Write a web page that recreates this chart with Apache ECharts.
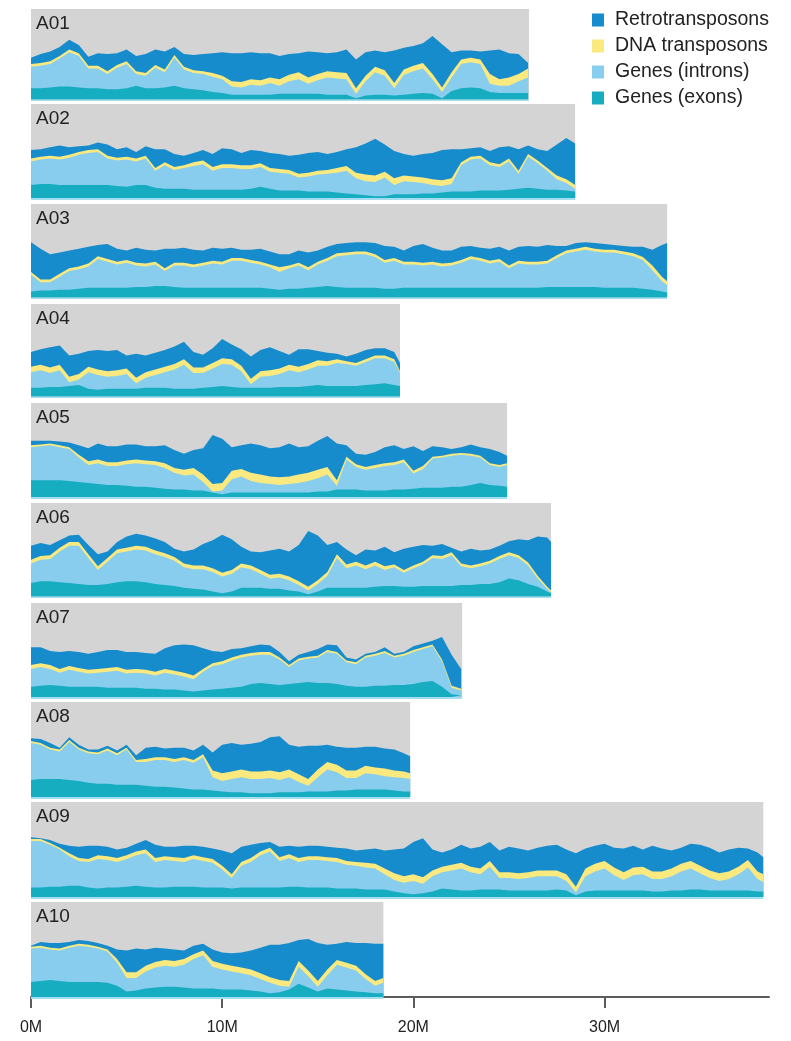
<!DOCTYPE html>
<html>
<head>
<meta charset="utf-8">
<title>Brassica rapa A genome composition</title>
<script src="https://cdn.jsdelivr.net/npm/echarts@6/dist/echarts.min.js"></script>
<style>
  html, body { margin: 0; padding: 0; background: #ffffff; }
  #chart { width: 791px; height: 1041px; }
</style>
</head>
<body>
<div id="chart"></div>
<script>
// Chromosomes and their lengths (Mb)
const chromosomes = ['A01', 'A02', 'A03', 'A04', 'A05', 'A06', 'A07', 'A08', 'A09', 'A10'];
const chromLengthMb = [26.05, 28.46, 33.27, 19.3, 24.9, 27.2, 22.55, 19.83, 38.3, 18.43];
const binMb = 0.5; // window spacing along each chromosome

// Cumulative levels (% of panel height) at the top of each stacked layer, one row per chromosome.
// exon <= intron <= DNA transposon <= retrotransposon
const retroTop = [
  [46,50,53,58,66,60,47,51,50,51,55,48,50,55,53,58,50,49,50,51,52,51,51,52,51,51,48,50,51,53,52,51,52,55,44,52,54,52,54,57,59,62,70,61,52,54,54,53,54,55,51,50,40],
  [51,52,54,56,54,55,56,59,57,52,54,49,55,52,52,47,45,48,51,47,53,52,48,51,50,48,47,45,46,48,49,47,49,52,54,58,63,57,50,47,45,47,48,51,52,52,53,54,50,54,55,52,56,52,50,57,64,58],
  [59,52,46,48,50,52,54,56,57,52,50,53,51,50,52,52,53,51,50,53,52,53,51,51,52,49,46,46,50,48,50,54,57,58,59,59,58,55,54,50,55,57,53,50,50,54,55,53,52,54,50,54,55,54,56,55,55,58,59,58,57,56,55,54,54,51,56,58],
  [48,51,53,55,44,46,49,50,49,50,44,46,44,47,50,54,59,48,45,52,62,56,51,43,50,53,49,45,51,51,49,47,46,43,46,50,52,52,48,36],
  [60,60,60,59,58,55,52,57,54,54,56,56,54,54,55,50,46,50,52,66,62,53,55,57,55,52,53,57,53,54,60,65,57,55,46,45,48,53,55,51,54,49,54,53,51,53,56,53,51,48,44],
  [54,57,55,60,65,66,55,45,48,58,64,67,65,62,58,51,48,50,56,60,66,61,53,48,47,49,51,48,55,70,65,55,58,50,44,50,49,53,47,51,53,55,54,56,52,48,51,49,50,54,59,61,60,64,63,58],
  [53,53,49,48,49,48,46,48,50,50,48,48,47,46,52,55,56,55,52,49,48,51,52,54,56,55,48,38,45,48,51,56,55,42,40,46,48,53,46,48,54,57,60,64,45,30],
  [62,61,57,52,63,55,50,50,54,49,55,44,52,53,51,52,52,49,55,47,55,57,55,56,58,63,64,55,53,54,54,55,53,52,52,53,53,51,50,46,43],
  [63,62,60,56,54,53,54,54,53,50,52,56,60,55,53,53,54,54,53,51,49,46,53,55,57,58,53,54,53,54,54,53,52,51,49,50,51,49,50,51,58,62,50,47,50,55,51,53,58,49,53,51,49,52,54,55,50,46,51,54,56,52,51,54,50,54,51,49,52,56,55,52,47,50,52,51,47,42],
  [54,58,57,57,58,60,59,57,54,50,49,51,50,52,51,50,49,54,56,50,47,46,47,49,52,55,55,57,60,61,57,55,56,58,57,57,56,56]
];

const dnaTop = [
  [39,40,42,48,55,51,37,37,31,38,42,31,29,38,33,49,36,32,31,29,26,20,19,22,21,24,22,27,30,24,28,31,30,29,12,26,36,32,18,33,37,40,28,13,30,44,46,44,28,22,24,28,34],
  [42,44,45,44,46,49,51,52,45,43,44,42,45,32,38,33,35,38,40,33,36,36,35,35,37,32,31,30,26,27,29,30,32,34,27,25,24,28,21,24,23,22,20,19,21,38,44,45,38,36,42,29,47,40,32,24,20,14],
  [27,19,19,25,31,33,36,44,41,38,40,37,36,38,31,37,37,35,37,39,38,42,42,40,38,35,32,34,37,32,38,42,47,48,49,49,46,40,42,38,38,37,38,36,37,40,44,42,39,41,34,39,38,38,39,45,50,52,54,52,51,51,49,47,43,34,22,17],
  [32,34,31,34,21,24,32,29,27,28,30,20,26,29,32,35,40,31,31,36,41,40,33,19,27,28,30,34,32,35,39,38,40,38,36,40,44,44,40,27],
  [55,56,57,55,53,45,38,40,37,37,39,40,39,38,36,31,29,31,24,14,15,28,30,26,24,22,21,22,24,26,29,32,18,43,35,32,34,36,37,40,28,33,43,44,46,47,46,44,36,34,36],
  [39,43,44,52,58,58,45,32,41,50,52,54,53,49,46,42,35,33,33,30,25,28,35,33,28,23,24,21,16,10,17,26,45,34,37,33,37,32,34,28,33,37,44,43,47,35,33,35,38,43,47,44,36,22,10,6],
  [34,36,34,30,33,31,29,30,31,32,29,30,29,27,30,28,26,23,30,36,38,42,45,47,48,48,42,34,41,43,44,50,48,39,37,44,46,49,44,46,50,53,56,40,12,9],
  [59,57,52,50,60,52,48,47,51,46,52,39,40,42,42,40,42,39,45,28,25,27,29,27,27,28,26,29,24,19,29,37,34,28,28,33,31,30,28,27,25],
  [61,61,57,52,46,41,40,44,43,41,44,48,50,41,43,42,41,44,42,40,33,24,37,41,48,52,42,45,41,43,43,42,41,38,37,36,35,30,25,22,24,21,28,32,34,36,32,30,38,26,26,25,26,28,28,28,24,11,30,35,38,31,26,31,32,27,27,30,35,38,33,28,25,27,32,39,27,24],
  [53,54,52,51,54,56,55,53,50,40,26,26,33,37,39,38,40,45,49,38,35,33,31,29,25,21,18,17,38,28,17,29,39,36,33,24,17,20]
];

const intronTop = [
  [36,37,39,45,52,48,34,34,28,35,39,28,26,35,30,46,33,29,28,25,22,14,13,16,15,18,15,20,22,17,21,24,23,22,6,20,30,26,12,27,31,34,22,8,24,39,41,39,17,15,15,20,24],
  [39,41,42,41,43,46,48,49,42,40,41,39,42,29,35,30,32,34,36,29,32,32,31,31,33,28,27,26,22,23,25,26,27,29,21,18,17,22,14,18,17,16,14,13,15,35,41,42,35,33,39,26,44,37,29,20,16,10],
  [24,16,16,22,28,30,33,41,38,35,37,34,33,35,28,34,34,32,34,36,35,39,39,37,35,32,27,31,34,29,35,39,44,45,46,46,43,37,39,35,35,34,35,33,34,37,41,39,36,38,31,36,35,35,36,42,47,49,51,49,48,48,46,44,40,29,17,13],
  [26,28,25,28,15,18,26,23,21,22,24,14,20,23,26,29,34,25,25,30,35,34,27,13,21,22,24,28,26,29,33,33,36,35,33,37,41,41,37,25],
  [53,54,55,53,51,42,34,36,33,33,35,36,35,34,31,26,23,24,16,6,7,19,22,17,15,14,13,14,15,17,20,24,12,40,32,29,31,33,34,37,25,30,41,42,44,45,44,42,34,32,34],
  [35,39,40,48,54,54,41,28,37,46,48,50,49,45,42,38,31,29,29,26,21,24,31,29,24,19,20,17,12,6,13,22,41,30,33,29,33,28,31,25,30,34,41,40,44,32,30,32,35,40,44,41,33,19,8,4],
  [30,32,30,26,29,27,25,26,27,28,25,26,25,23,26,24,22,19,27,33,35,39,42,44,45,45,40,32,39,41,42,48,46,37,35,42,44,47,42,44,48,51,54,38,10,7],
  [57,55,50,48,58,50,46,45,49,44,50,37,37,39,39,37,39,36,42,21,17,19,21,19,19,20,18,21,16,12,21,29,26,20,20,25,24,22,21,20,19],
  [59,59,55,50,43,38,37,40,39,37,40,44,46,37,39,38,37,40,38,36,29,20,33,37,44,48,38,41,37,39,39,38,37,34,33,31,30,24,18,15,17,14,22,26,28,30,26,24,32,20,20,19,20,22,22,22,17,5,22,27,30,23,18,23,24,19,19,22,27,30,25,20,17,19,24,31,19,16],
  [51,52,50,49,52,54,53,51,48,36,20,20,27,31,33,32,34,40,44,32,29,27,25,23,19,15,12,11,32,22,11,23,34,31,28,19,12,15]
];

const exonTop = [
  [12,12,13,14,14,13,12,12,11,11,12,15,12,12,13,15,12,11,10,8,7,5,5,5,5,5,6,6,6,6,6,5,5,5,1,4,5,5,4,5,6,7,6,1,9,12,13,12,8,7,7,7,7],
  [14,15,15,14,14,14,14,14,14,13,12,14,14,11,10,10,10,9,9,9,9,9,9,10,12,10,8,8,8,7,7,7,6,5,4,3,2,2,4,4,4,5,5,6,7,7,7,8,8,8,9,10,11,10,9,9,8,7],
  [6,7,7,8,8,9,10,10,10,10,10,11,11,12,12,11,10,10,10,10,10,10,10,10,10,9,8,9,9,10,11,12,11,10,10,10,10,9,9,10,10,10,10,10,10,10,10,10,10,10,10,10,10,10,11,11,11,11,11,11,10,10,10,10,9,8,6,5],
  [9,9,10,10,11,12,8,7,8,8,8,8,9,9,9,8,8,8,9,10,11,10,9,9,9,9,10,10,10,11,12,11,11,11,11,12,13,14,12,11],
  [18,18,18,18,17,16,15,14,13,13,12,11,11,10,9,8,8,7,7,5,3,5,5,5,5,5,5,5,5,5,6,6,8,8,8,7,7,7,8,8,9,10,10,10,11,11,13,15,13,12,11],
  [14,16,16,15,14,13,12,12,13,15,16,16,15,13,12,11,9,8,7,5,3,5,9,9,9,8,8,6,5,2,5,9,9,9,9,9,10,11,11,10,10,11,11,11,11,12,12,13,13,15,19,17,13,10,5,3],
  [11,12,13,12,11,11,11,11,10,10,10,10,9,9,8,8,7,6,7,8,9,10,11,14,15,14,13,14,15,16,15,15,14,12,11,11,12,12,13,13,14,16,17,11,3,2],
  [18,19,19,19,18,17,15,14,14,13,13,13,12,11,11,10,9,8,8,7,6,5,5,4,4,4,5,5,5,6,6,6,7,7,8,8,8,8,7,6,6],
  [10,10,11,11,12,12,10,9,10,10,11,12,11,10,10,11,11,11,10,10,10,9,10,10,10,10,10,11,11,10,10,10,9,9,9,8,8,8,6,4,3,4,6,9,8,7,7,8,8,8,7,7,7,7,7,8,7,2,6,7,7,7,7,7,7,6,6,7,7,8,8,7,7,7,7,7,6,6],
  [16,17,18,17,16,16,16,16,15,12,6,7,9,10,11,11,10,9,9,9,8,8,8,7,6,4,5,8,14,10,6,9,8,7,6,5,4,4]
];

const layerNames = ['Retrotransposons', 'DNA transposons', 'Genes (introns)', 'Genes (exons)'];
const tickValues = [0, 10, 20, 30];

// Styling / layout
const layerColors = ['#178ccc', '#f9e97f', '#88cdee', '#16adc1'];
const panelColor = '#d4d4d4';
const baseStripColor = '#a6def1';
const axisMaxMb = 38.6;
const panelTop = [9, 104, 204, 304, 403, 503, 603, 702, 802, 902];
const panelBottom = [101, 200, 299, 398, 499, 598, 699, 799, 899, 999];
const fontFamily = '"Liberation Sans", Arial, Helvetica, sans-serif';

const layers = [retroTop, dnaTop, intronTop, exonTop];

const grids = [], xAxes = [], yAxes = [], titles = [], series = [];

chromosomes.forEach((name, i) => {
  const len = chromLengthMb[i];
  const last = i === chromosomes.length - 1;

  grids.push({ left: 31, width: 738, top: panelTop[i], height: panelBottom[i] - panelTop[i] });

  xAxes.push({
    gridIndex: i, type: 'value', min: 0, max: axisMaxMb, interval: 10,
    show: last,
    offset: 1,
    axisLine: { show: true, lineStyle: { color: '#5c5c5c', width: 2 } },
    axisTick: { show: true, length: 11, lineStyle: { color: '#5c5c5c', width: 2 }, customValues: tickValues },
    axisLabel: {
      customValues: tickValues,
      formatter: v => v + 'M', fontSize: 16, color: '#222', margin: 20, fontFamily
    },
    splitLine: { show: false }
  });

  yAxes.push({ gridIndex: i, type: 'value', min: -2, max: 100, show: false });

  titles.push({
    text: name, left: 36, top: panelTop[i] + 5, padding: 0,
    textStyle: { fontSize: 19, fontWeight: 'normal', color: '#222', fontFamily }
  });

  // chromosome backdrop spanning its full length
  series.push({
    type: 'line', xAxisIndex: i, yAxisIndex: i, z: 1,
    data: [[0, 0]], symbol: 'none', lineStyle: { opacity: 0 }, silent: true,
    markArea: {
      silent: true,
      data: [
        [{ xAxis: 0, yAxis: 0, itemStyle: { color: panelColor } }, { xAxis: len, yAxis: 100 }],
        [{ xAxis: 0, yAxis: -2, itemStyle: { color: baseStripColor } }, { xAxis: len, yAxis: 0 }]
      ]
    }
  });

  // stacked layers drawn back to front as cumulative areas
  layers.forEach((layer, k) => {
    series.push({
      name: layerNames[k],
      type: 'line', xAxisIndex: i, yAxisIndex: i, z: 2 + k,
      data: layer[i].map((v, j) => [Math.min(j * binMb, len), v]),
      symbol: 'none', showSymbol: false, smooth: false,
      lineStyle: { width: 0 },
      areaStyle: { color: layerColors[k], opacity: 1 },
      itemStyle: { color: layerColors[k] },
      silent: true
    });
  });
});

const chart = echarts.init(document.getElementById('chart'), null, { renderer: 'canvas' });
chart.setOption({
  animation: false,
  backgroundColor: '#ffffff',
  title: titles,
  legend: {
    data: layerNames,
    orient: 'vertical',
    left: 587, top: 5,
    icon: 'rect', itemWidth: 12, itemHeight: 13, itemGap: 6,
    selectedMode: false,
    textStyle: { fontSize: 19.5, lineHeight: 20, color: '#222', fontFamily, padding: [0, 0, 0, 6] }
  },
  grid: grids,
  xAxis: xAxes,
  yAxis: yAxes,
  series
});
</script>
</body>
</html>
